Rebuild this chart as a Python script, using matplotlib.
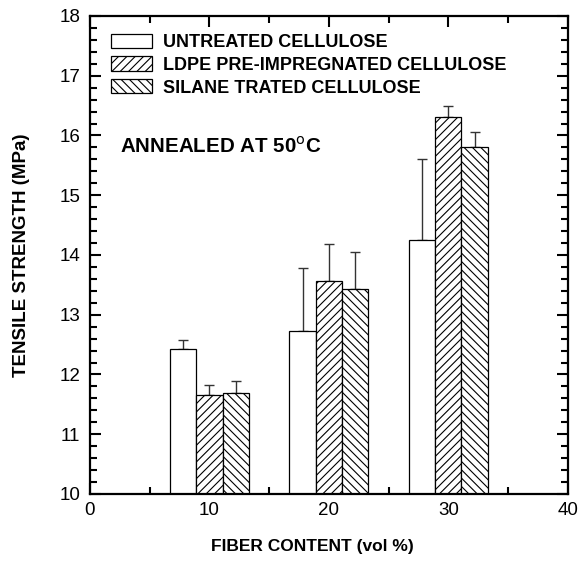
import numpy as np
import matplotlib
matplotlib.use("Agg")
import matplotlib.pyplot as plt
from matplotlib.ticker import MultipleLocator

# ---- data ----
fiber_content = [10, 20, 30]
series_names = ["UNTREATED CELLULOSE", "LDPE PRE-IMPREGNATED CELLULOSE", "SILANE TRATED CELLULOSE"]
untreated = [12.42, 12.73, 14.25]
untreated_err = [0.15, 1.06, 1.35]
ldpe = [11.65, 13.56, 16.31]
ldpe_err = [0.17, 0.62, 0.19]
silane = [11.69, 13.43, 15.80]
silane_err = [0.20, 0.62, 0.25]

plt.rcParams['font.family'] = ['Liberation Sans', 'DejaVu Sans']
plt.rcParams['hatch.linewidth'] = 0.8

fig = plt.figure(figsize=(5.8, 5.63), dpi=100)
ax = fig.add_axes([0.155, 0.1226, 0.979 - 0.155, 0.9716 - 0.1226])

width = 2.2
offsets = [-2.2, 0.0, 2.2]
hatches = ['', '////', '\\\\\\\\']
values = [untreated, ldpe, silane]
errs = [untreated_err, ldpe_err, silane_err]
x = np.array(fiber_content, dtype=float)
handles = []
for off, vals, err, h, name in zip(offsets, values, errs, hatches, series_names):
    vals = np.array(vals)
    bars = ax.bar(x + off, vals - 10, bottom=10, width=width, color='white',
                  edgecolor='black', linewidth=0.9, hatch=h, label=name, zorder=2)
    ax.errorbar(x + off, vals, yerr=[np.zeros_like(vals), np.array(err)], fmt='none',
                ecolor='#333333', elinewidth=1.0, capsize=3.3, capthick=1.0, zorder=1)
    handles.append(bars)

ax.set_xlim(0, 40)
ax.set_ylim(10, 18)
ax.xaxis.set_major_locator(MultipleLocator(10))
ax.xaxis.set_minor_locator(MultipleLocator(5))
ax.yaxis.set_major_locator(MultipleLocator(1))
ax.yaxis.set_minor_locator(MultipleLocator(0.2))
ax.tick_params(which='both', direction='in', top=True, right=True, width=1.5)
ax.tick_params(which='major', length=8)
ax.tick_params(which='minor', length=5)
ax.tick_params(axis='y', which='major', labelsize=13.5, pad=7)
ax.tick_params(axis='x', which='major', labelsize=13.5, pad=6)
for s in ax.spines.values():
    s.set_linewidth(1.6)

ax.set_xlabel("FIBER CONTENT (vol %)", fontsize=12.5, fontweight='bold', labelpad=14)
ax.xaxis.set_label_coords(0.465, -0.095)
ax.set_ylabel("TENSILE STRENGTH (MPa)", fontsize=13.5, fontweight='bold')
ax.yaxis.set_label_coords(-0.125, 0.5)

leg = ax.legend(handles=handles, loc='upper left', bbox_to_anchor=(0.044, 0.963),
                frameon=False, fontsize=13, handlelength=2.3, handleheight=0.83,
                labelspacing=0.3, handletextpad=0.6, borderaxespad=0.0, borderpad=0.0)
for t in leg.get_texts():
    t.set_fontweight('bold')

ax.text(0.063, 0.727, r"ANNEALED AT 50$^{\mathrm{o}}$C", transform=ax.transAxes,
        fontsize=14.8, fontweight='bold', va='center', ha='left')

fig.savefig("out.png", dpi=100)
